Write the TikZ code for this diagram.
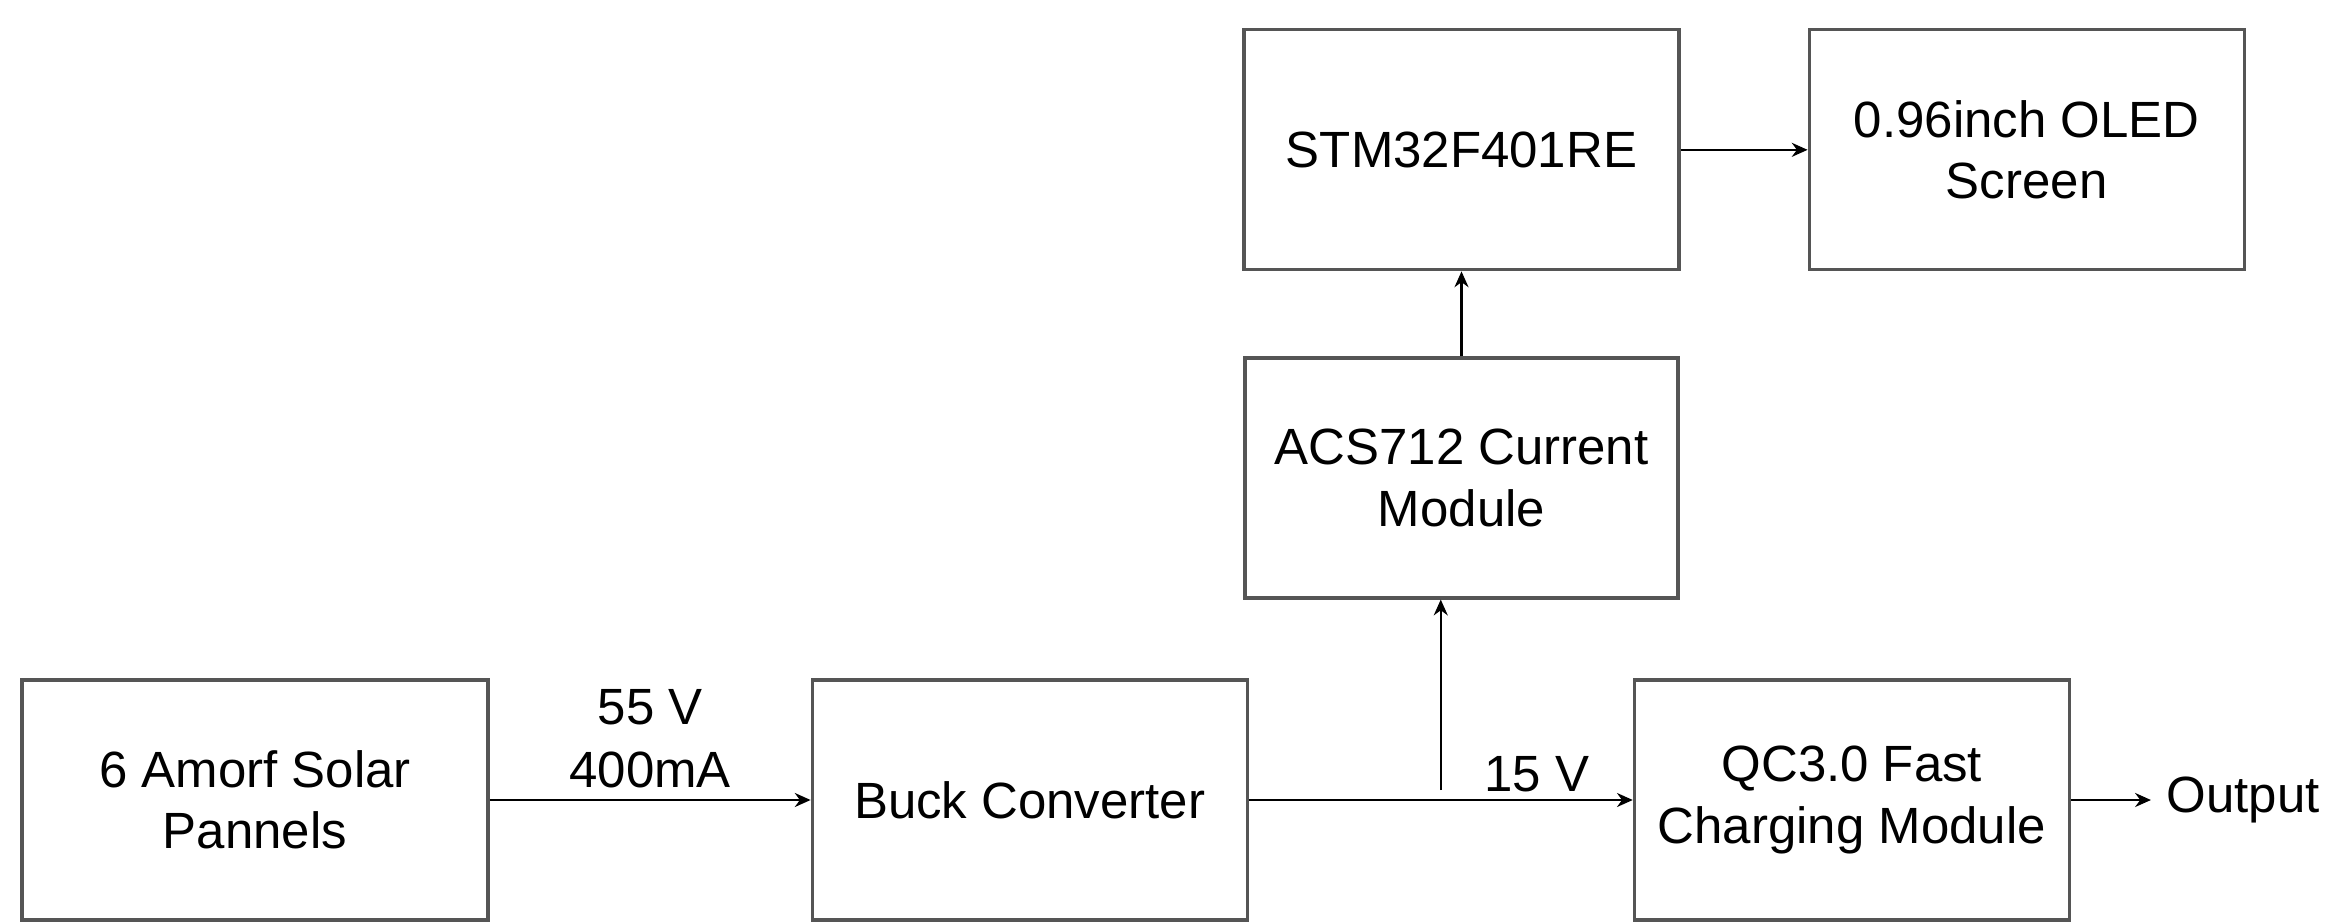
\documentclass[tikz,border=0pt]{standalone}
\usepackage{fontspec}
\setmainfont{Liberation Sans}
\usepackage{tikz}
\usetikzlibrary{arrows.meta, positioning, calc}
\definecolor{boxline}{HTML}{555555}

\begin{document}
\begin{tikzpicture}[
    node distance=2cm,
    block/.style={draw=boxline, line width=0.9pt, minimum width=4.35cm,
                  minimum height=2.4cm, align=center, inner sep=2pt,
                  font=\fontsize{14.5}{17.5}\selectfont},
    lbl/.style={font=\fontsize{14.5}{18}\selectfont, align=center},
    link/.style={-{Stealth[length=4.5pt, width=4pt]}, line width=0.6pt}
]
    \useasboundingbox (0,0) rectangle (23.35,9.23);
    \node[block, minimum width=4.66cm] (solar) at (2.55,1.23) {6 Amorf Solar\\Pannels};
    \node[block, right=3.21cm of solar] (buck) {Buck Converter};
    \node[block, right=3.84cm of buck] (qc) {QC3.0 Fast\\Charging Module};
    \node[lbl, right=0.8cm of qc, inner sep=0.15cm] (out) {Output};
    \node[block, minimum width=4.33cm] (acs) at (14.615,4.45) {ACS712 Current\\Module};
    \node[block, above=0.85cm of acs] (stm) {STM32F401RE};
    \node[block, right=1.27cm of stm] (oled) {0.96inch OLED\\Screen};

    \draw[link] (solar) -- node[lbl, above, inner sep=3pt] {55 V\\400mA} (buck);
    \draw[link] (buck) -- node[lbl, pos=0.75, above, inner sep=2pt] {15 V} (qc);
    \coordinate (tap) at ($(buck.east)!0.5!(qc.west) + (0,0.1)$);
    \draw[link] (tap) -- (tap |- acs.south);
    \draw[link] (acs) -- (stm);
    \draw[link] (stm) -- (oled);
    \draw[link] (qc) -- (out);
\end{tikzpicture}
\end{document}
